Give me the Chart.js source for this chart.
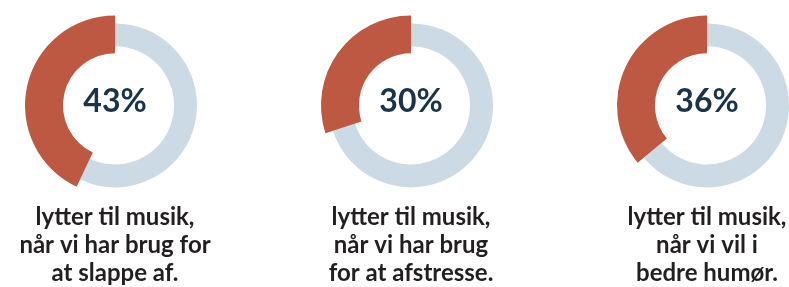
<!DOCTYPE html>
<html>
<head>
<meta charset="utf-8">
<script src="https://cdn.jsdelivr.net/npm/chart.js@4.4.0/dist/chart.umd.min.js"></script>
<style>
  html, body { margin: 0; padding: 0; background: #fff; }
  body { width: 789px; height: 287px; position: relative; overflow: hidden; }
  .donut { position: absolute; top: 0; width: 250px; height: 287px; }
</style>
</head>
<body>
<div class="donut" id="d0"><canvas id="c0"></canvas></div>
<div class="donut" id="d1"><canvas id="c1"></canvas></div>
<div class="donut" id="d2"><canvas id="c2"></canvas></div>
<script>
var shares = [43, 30, 36];       // Percent who listen to music for each reason
var centerLabels = ['43%', '30%', '36%'];
var captions = [
    ['lytter til musik,', 'når vi har brug for', 'at slappe af.'],
    ['lytter til musik,', 'når vi har brug', 'for at afstresse.'],
    ['lytter til musik,', 'når vi vil i', 'bedre humør.']
];
var centersX = [115, 411, 707];  // Where each donut sits across the page

var red = '#bd5842';
var blue = '#cbdae5';
var navy = '#1b3347';
var font = 'Lato, "Open Sans", sans-serif';

// The highlighted slice is drawn as a wider ring than the rest.
var fatSlice = {
    id: 'fatSlice',
    beforeDatasetsDraw: function(chart) {
        var meta = chart.getDatasetMeta(0);
        var arc = meta.data[1];
        arc.outerRadius = meta.data[0].outerRadius + 8;
        arc.innerRadius = meta.data[0].innerRadius - 7;
    }
};

// Percentage in the middle of the ring.
var centerText = {
    id: 'centerText',
    afterDatasetsDraw: function(chart, args, opts) {
        var arc = chart.getDatasetMeta(0).data[0];
        var ctx = chart.ctx;
        ctx.save();
        ctx.font = 'bold 32px ' + font;
        ctx.fillStyle = navy;
        ctx.textAlign = 'center';
        ctx.textBaseline = 'middle';
        ctx.fillText(opts.text, arc.x, arc.y - 4);
        ctx.restore();
    }
};

for (let i = 0; i < shares.length; i++) {
    var box = document.getElementById('d' + i);
    box.style.left = (centersX[i] - 125) + 'px';
    new Chart(document.getElementById('c' + i), {
        type: 'doughnut',
        data: {
            labels: ['Andre', 'Lytter til musik'],
            datasets: [{
                data: [100 - shares[i], shares[i]],
                backgroundColor: [blue, red],
                borderWidth: 0
            }]
        },
        options: {
            responsive: true,
            maintainAspectRatio: false,
            animation: false,
            radius: 82,
            cutout: '72%',
            layout: { padding: { top: 8, bottom: 0 } },
            plugins: {
                legend: { display: false },
                tooltip: { enabled: false },
                title: {
                    display: true,
                    position: 'bottom',
                    text: captions[i],
                    color: '#231f20',
                    font: { family: font, size: 24, weight: 'bold', lineHeight: 1.17 },
                    padding: { top: 0, bottom: 0 }
                },
                centerText: { text: centerLabels[i] }
            }
        },
        plugins: [fatSlice, centerText]
    });
}
</script>
</body>
</html>
